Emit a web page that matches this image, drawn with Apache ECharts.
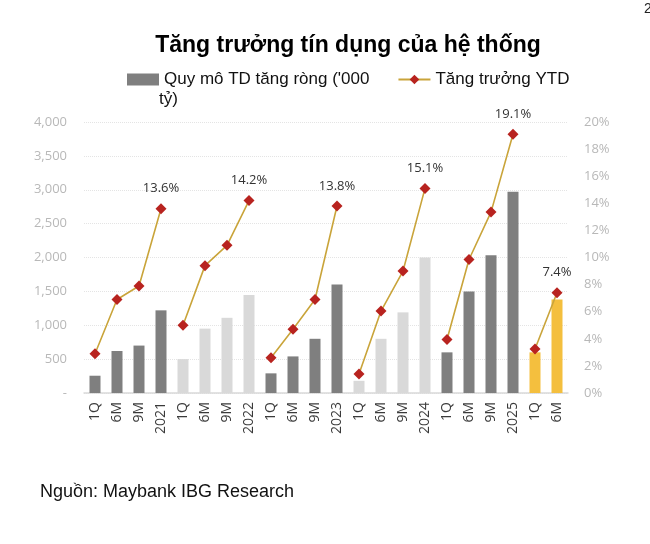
<!DOCTYPE html>
<html>
<head>
<meta charset="utf-8">
<script src="https://cdn.jsdelivr.net/npm/echarts@6/dist/echarts.min.js"></script>
<style>
  html, body { margin: 0; padding: 0; background: #fff; }
  #chart { width: 650px; height: 544px; }
</style>
</head>
<body>
<div id="chart"></div>
<script>
// danh mục theo quý / năm
const categories = ['1Q', '6M', '9M', '2021', '1Q', '6M', '9M', '2022', '1Q', '6M', '9M', '2023',
  '1Q', '6M', '9M', '2024', '1Q', '6M', '9M', '2025', '1Q', '6M'];
// Quy mô TD tăng ròng ('000 tỷ)
const netCredit = [255, 620, 700, 1220, 500, 950, 1110, 1445, 290, 540, 800, 1600,
  180, 800, 1190, 2000, 600, 1500, 2035, 2970, 600, 1380];
// Tăng trưởng YTD (%)
const ytdGrowth = [2.9, 6.9, 7.9, 13.6, 5.0, 9.4, 10.9, 14.2, 2.6, 4.7, 6.9, 13.8,
  1.4, 6.05, 9.0, 15.1, 3.95, 9.85, 13.35, 19.1, 3.25, 7.4];
const leftTicks = [0, 500, 1000, 1500, 2000, 2500, 3000, 3500, 4000];
const rightTicks = [0, 2, 4, 6, 8, 10, 12, 14, 16, 18, 20];

const barName = "Quy mô TD tăng ròng ('000 tỷ)";
const lineName = 'Tăng trưởng YTD';
const groupColors = ['#7f7f7f', '#d9d9d9', '#7f7f7f', '#d9d9d9', '#7f7f7f', '#f4bf3e'];

let myChart = echarts.init(document.getElementById('chart'));

// mỗi năm một đoạn đường riêng
let lineSeries = [];
for (let g = 0; g * 4 < categories.length; g++) {
  let data = ytdGrowth.map(function (v, i) {
    return Math.floor(i / 4) === g ? v : '-';
  });
  let last = Math.min(g * 4 + 3, categories.length - 1);
  lineSeries.push({
    name: lineName,
    type: 'line',
    yAxisIndex: 1,
    data: data,
    symbol: 'diamond',
    symbolSize: 11,
    z: 5,
    lineStyle: { color: '#c9a43a', width: 1.6 },
    itemStyle: { color: '#b8231f' },
    label: {
      show: true,
      position: 'top',
      distance: 8,
      color: '#333',
      fontSize: 13,
      fontFamily: 'Open Sans',
      formatter: function (p) {
        return p.dataIndex === last ? p.value.toFixed(1) + '%' : '';
      }
    }
  });
}

myChart.setOption({
  animation: false,
  title: {
    text: 'Tăng trưởng tín dụng của hệ thống',
    left: 343,
    textAlign: 'center',
    top: 29,
    textStyle: {
      fontFamily: 'Liberation Sans',
      fontSize: 23,
      fontWeight: 'bold',
      color: '#000'
    }
  },
  legend: {
    left: 122,
    top: 66,
    itemGap: 28,
    itemWidth: 32,
    itemHeight: 12,
    data: [{ name: barName, icon: 'rect', itemStyle: { color: '#7f7f7f' } }, lineName],
    formatter: function (name) {
      return name === barName ? "Quy mô TD tăng ròng ('000" : name;
    },
    textStyle: { fontFamily: 'Liberation Sans', fontSize: 17, color: '#111' }
  },
  graphic: [{
    type: 'text',
    left: 159,
    top: 91,
    style: { text: 'tỷ)', fontFamily: 'Liberation Sans', fontSize: 17, fill: '#111' }
  }, {
    type: 'text',
    left: 40,
    top: 483,
    style: { text: 'Nguồn: Maybank IBG Research', fontFamily: 'Liberation Sans', fontSize: 18, fill: '#111' }
  }, {
    type: 'text',
    left: 644,
    top: 2,
    style: { text: '2', fontFamily: 'Liberation Sans', fontSize: 14, fill: '#222' }
  }],
  grid: {
    left: 84,
    right: 82,
    top: 122,
    bottom: 151
  },
  xAxis: {
    type: 'category',
    data: categories,
    axisTick: { show: false },
    axisLine: { lineStyle: { color: '#d9d9d9', width: 1.5 } },
    axisLabel: {
      rotate: 90,
      interval: 0,
      margin: 9,
      color: '#3a3a3a',
      fontSize: 14,
      fontFamily: 'Open Sans'
    }
  },
  yAxis: [{
    type: 'value',
    min: leftTicks[0],
    max: leftTicks[leftTicks.length - 1],
    interval: 500,
    axisLine: { show: false },
    axisTick: { show: false },
    splitLine: { lineStyle: { color: '#e4e4e4', type: 'dotted' } },
    axisLabel: {
      margin: 17,
      color: '#b8b8b8',
      fontSize: 13,
      fontFamily: 'Open Sans',
      formatter: function (v) {
        return v === 0 ? '-' : v.toLocaleString('en-US');
      }
    }
  }, {
    type: 'value',
    min: rightTicks[0],
    max: rightTicks[rightTicks.length - 1],
    interval: 2,
    position: 'right',
    axisLine: { show: false },
    axisTick: { show: false },
    splitLine: { show: false },
    axisLabel: {
      margin: 16,
      color: '#b8b8b8',
      fontSize: 13,
      fontFamily: 'Open Sans',
      formatter: '{value}%'
    }
  }],
  series: [{
    name: barName,
    type: 'bar',
    data: netCredit,
    barWidth: 11,
    itemStyle: {
      color: function (p) {
        return groupColors[Math.floor(p.dataIndex / 4)];
      }
    }
  }].concat(lineSeries)
});

window.addEventListener('resize', function () {
  myChart.resize();
});
</script>
</body>
</html>
